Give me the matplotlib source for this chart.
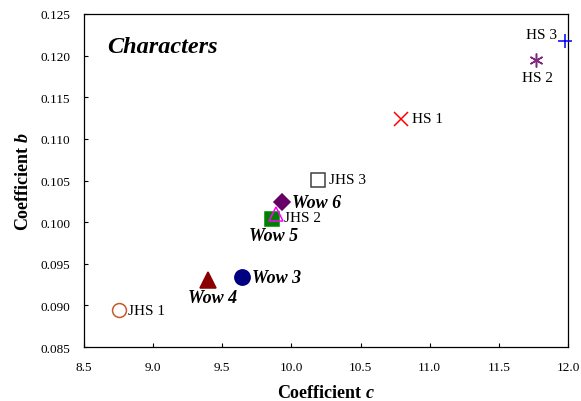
import matplotlib
matplotlib.use("Agg")
import matplotlib.pyplot as plt
from matplotlib.ticker import FormatStrFormatter, MultipleLocator

plt.rcParams['font.family'] = ['Liberation Serif', 'DejaVu Serif']
plt.rcParams['mathtext.fontset'] = 'custom'
plt.rcParams['mathtext.it'] = 'Liberation Serif:italic:bold'
plt.rcParams['mathtext.rm'] = 'Liberation Serif:bold'

# Coefficient c (x) and coefficient b (y) for each character
names = ["JHS 1", "Wow 4", "Wow 3", "Wow 5", "JHS 2", "Wow 6", "JHS 3", "HS 1", "HS 2", "HS 3"]
coef_c = [8.75, 9.40, 9.64, 9.86, 9.89, 9.93, 10.19, 10.79, 11.77, 11.98]
coef_b = [0.0894, 0.0930, 0.0934, 0.1004, 0.1010, 0.1024, 0.1051, 0.1124, 0.1195, 0.1217]

# marker, size, face, edge
styles = [
    ("o", 10, "white", "#C55A28"),
    ("^", 11, "#8B0000", "#8B0000"),
    ("o", 11, "#000080", "#000080"),
    ("s", 9.5, "#008000", "#008000"),
    ("^", 10.5, "none", "#FF00FF"),
    ("D", 8.5, "#660066", "#660066"),
    ("s", 10, "white", "#404040"),
    ("x", 10.5, "#FF0000", "#FF0000"),
    ((6, 2, 0), 10, "#7F2A7F", "#7F2A7F"),
    ("+", 10, "#0000FF", "#0000FF"),
]

# label offset (pixels), alignment, style
label_pos = [
    ((9, 0), "left", "center", False),
    ((4, -17), "center", "center", True),
    ((10, 0), "left", "center", True),
    ((1, -17), "center", "center", True),
    ((8, -4), "left", "center", False),
    ((10, 0), "left", "center", True),
    ((11, 0), "left", "center", False),
    ((11, 0), "left", "center", False),
    ((1, -18), "center", "center", False),
    ((-8, 7), "right", "center", False),
]

fig = plt.figure(figsize=(5.81, 4.02), dpi=100)
ax = fig.add_axes([0.1446, 0.1343, 0.8330, 0.8284])

for x, y, (m, ms, fc, ec) in zip(coef_c, coef_b, styles):
    ax.plot([x], [y], linestyle="none", marker=m, markersize=ms,
            markerfacecolor=fc, markeredgecolor=ec, markeredgewidth=1.1,
            clip_on=False, zorder=3)

for name, x, y, ((dx, dy), ha, va, wow) in zip(names, coef_c, coef_b, label_pos):
    if wow:
        ax.annotate(name, (x, y), xytext=(dx, dy), textcoords="offset pixels",
                    ha=ha, va=va, fontsize=13, fontweight="bold", fontstyle="italic",
                    zorder=4)
    else:
        ax.annotate(name, (x, y), xytext=(dx, dy), textcoords="offset pixels",
                    ha=ha, va=va, fontsize=11, zorder=4)

ax.set_xlim(8.5, 12.0)
ax.set_ylim(0.085, 0.125)
ax.xaxis.set_major_locator(MultipleLocator(0.5))
ax.yaxis.set_major_locator(MultipleLocator(0.005))
ax.xaxis.set_major_formatter(FormatStrFormatter("%.1f"))
ax.yaxis.set_major_formatter(FormatStrFormatter("%.3f"))
ax.tick_params(axis="x", direction="in", length=3, width=0.8, labelsize=9.5, pad=10)
ax.tick_params(axis="y", direction="in", length=3, width=0.8, labelsize=9.5, pad=10)

for sp in ax.spines.values():
    sp.set_linewidth(0.9)
    sp.set_color("black")

ax.set_xlabel("Coefficient $c$", fontsize=13, fontweight="bold", labelpad=8)
ax.set_ylabel("Coefficient $b$", fontsize=13, fontweight="bold", labelpad=6)

ax.text(0.048, 0.885, "Characters", transform=ax.transAxes, fontsize=17.5,
        fontweight="bold", fontstyle="italic", ha="left", va="baseline")

fig.savefig("out.png", dpi=100)
